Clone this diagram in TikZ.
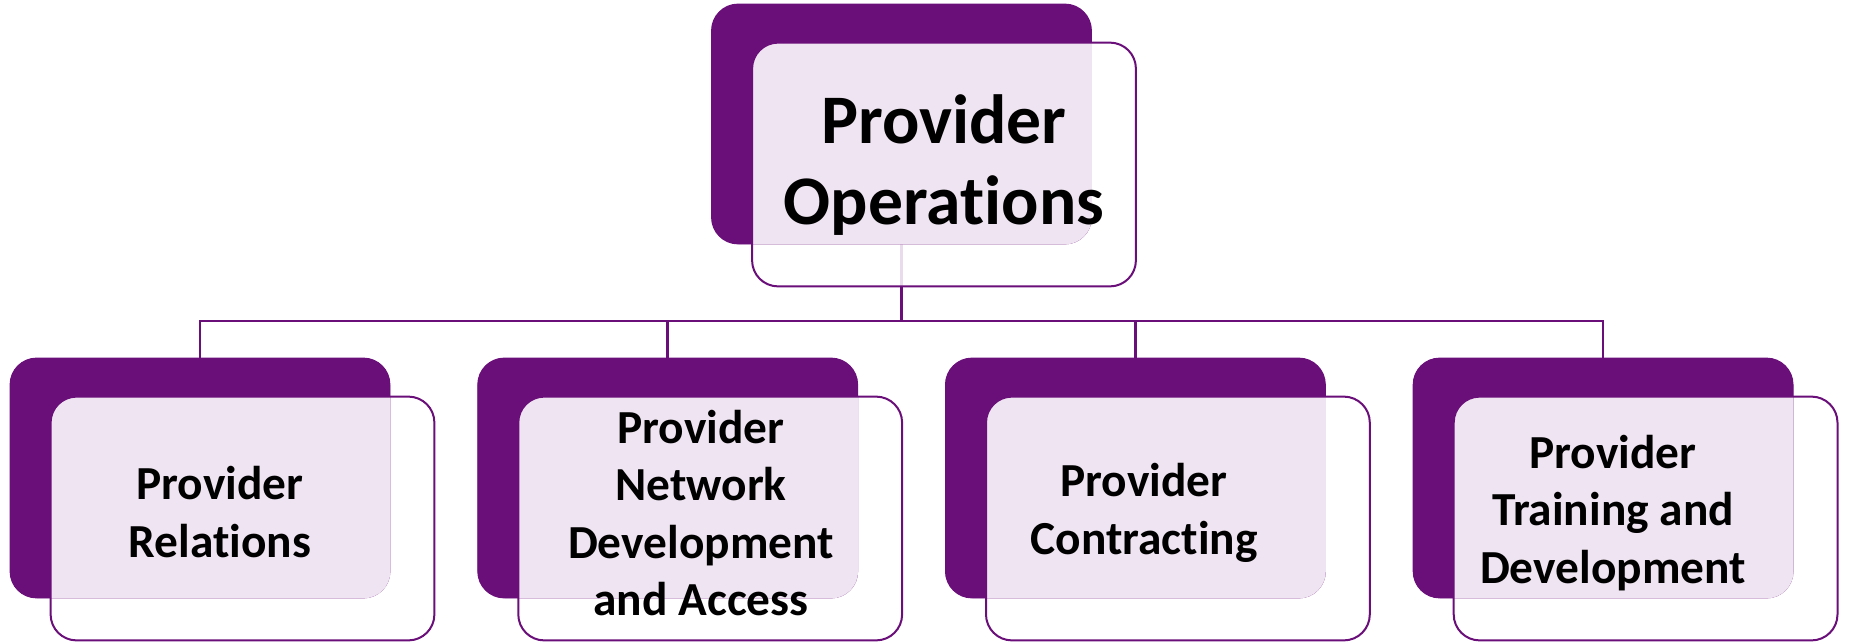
\documentclass[tikz,border=0pt]{standalone}
\usepackage{fontspec}
\setmainfont{Carlito}[Ligatures=NoCommon]
\definecolor{plum}{RGB}{106,14,121}
\definecolor{lavender}{RGB}{239,228,241}
\begin{document}
\begin{tikzpicture}[x=0.5pt,y=-0.5pt,
  darkbox/.style={fill=plum, rounded corners=13.5pt, minimum width=190pt, minimum height=120pt, inner sep=0pt},
  framebox/.style={rounded corners=13pt, minimum width=191.5pt, minimum height=121.5pt, inner sep=0pt},
  label/.style={align=center, font=\bfseries\fontsize{23.7}{28.75}\selectfont, inner sep=0pt},
  toplabel/.style={align=center, font=\bfseries\fontsize{34.8}{40.5}\selectfont, inner sep=0pt},
  link/.style={draw=plum, line width=1.25pt}]
\useasboundingbox (0,0) rectangle (1849,643);

% layout: shadow blocks and framed blocks
\node[darkbox] (d0) at (901.5,124) {};
\node[framebox] (f0) at (944,164.5) {};
\foreach \i in {1,...,4}{
  \node[darkbox] (d\i) at ({200+467.7*(\i-1)},478) {};
  \node[framebox] (f\i) at ({242.5+467.7*(\i-1)},518.5) {};
}
\coordinate (bar) at (0,321);

% connectors from the head block to each child block
\foreach \i in {1,...,4}
  \draw[link] (d0.south) -- (d0.south |- bar) -| (d\i.north);

% white interiors of the framed blocks (the head one veils its connector)
\fill[white, opacity=0.85, rounded corners=13pt] (f0.north west) rectangle (f0.south east);
\foreach \i in {1,...,4}
  \fill[white, rounded corners=13pt] (f\i.north west) rectangle (f\i.south east);

% dark blocks and the light overlap panels
\foreach \i in {0,...,4}{
  \fill[plum, rounded corners=13.5pt] (d\i.north west) rectangle (d\i.south east);
  \begin{scope}
    \clip[rounded corners=13.5pt] (d\i.north west) rectangle (d\i.south east);
    \fill[lavender, rounded corners=13pt] (f\i.north west) rectangle (f\i.south east);
  \end{scope}
  \draw[plum, line width=1pt, rounded corners=13pt] (f\i.north west) rectangle (f\i.south east);
}

% texts
\node[toplabel] (t0) at (944,165) {Provider\\Operations};
\node[label] (t1) at (220,512) {Provider\\Relations};
\node[label] (t2) at (701,513) {Provider\\Network\\Development\\and Access};
\node[label] (t3) at (1144,513) {Provider\\Contracting};
\node[label] (t4) at (1613,513) {Provider\\Training and\\Development};
\end{tikzpicture}
\end{document}
